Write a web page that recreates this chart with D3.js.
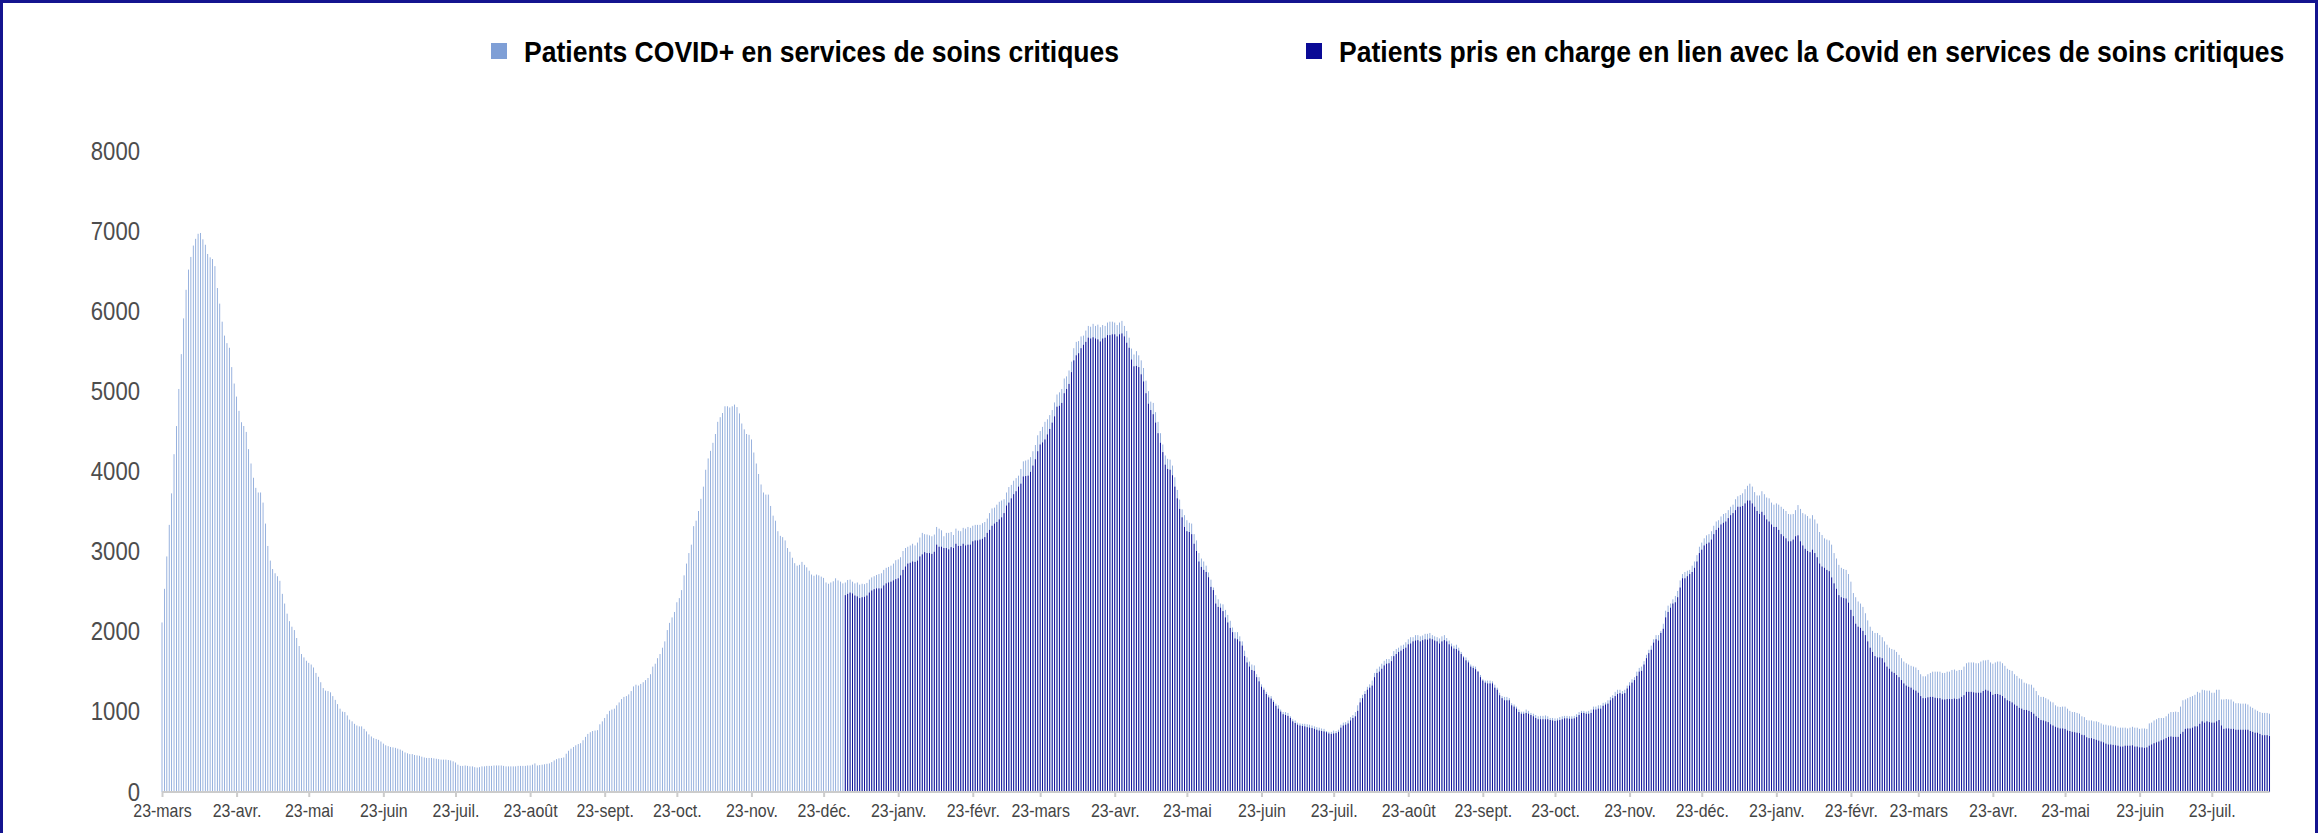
<!DOCTYPE html>
<html>
<head>
<meta charset="utf-8">
<style>
  body { margin: 0; background: #fff; }
  svg text { font-family: Arial, "Liberation Sans", sans-serif; }
</style>
</head>
<body>
<svg id="chart" width="2318" height="833"></svg>
<script src="https://d3js.org/d3.v7.min.js"></script>
<script>
// series names (legend)
var seriesNames = [
  "Patients COVID+ en services de soins critiques",
  "Patients pris en charge en lien avec la Covid en services de soins critiques"
];
var seriesColors = ["#7f9fd6", "#0a0a96"];

// daily values, first series starts 2020-03-23, second one 2021-01-01
var covidPlusStart = "2020-03-23";
var covidPlus = [
  2116,2536,2940,3334,3727,4216,4567,5030,5465,5911,
  6268,6520,6678,6820,6904,6967,6977,6898,6830,6715,
  6673,6652,6563,6290,6095,5870,5696,5602,5544,5303,
  5098,4935,4757,4615,4568,4494,4279,4100,3922,3796,
  3738,3738,3612,3350,3071,2888,2783,2730,2693,2636,
  2473,2352,2226,2132,2063,2021,1922,1822,1722,1680,
  1638,1612,1591,1554,1486,1438,1370,1297,1265,1260,
  1244,1197,1150,1097,1040,1003,998,956,903,882,
  851,830,819,819,788,756,719,693,672,662,
  651,630,604,583,572,562,557,551,541,530,
  515,494,483,473,473,462,457,452,441,431,
  425,425,425,420,415,410,404,404,404,399,
  394,383,368,341,326,326,331,326,320,320,
  310,305,310,320,320,326,326,326,331,331,
  331,331,326,320,320,320,320,320,326,326,
  326,326,331,331,341,357,331,336,341,346,
  352,357,373,394,410,420,425,431,478,515,
  541,562,583,599,609,646,688,725,746,761,
  767,772,845,882,924,971,1013,1029,1040,1082,
  1118,1160,1187,1197,1218,1260,1318,1339,1328,1349,
  1370,1397,1423,1470,1565,1601,1670,1722,1801,1880,
  2021,2111,2179,2247,2368,2420,2520,2704,2851,2982,
  3087,3318,3386,3507,3659,3811,4022,4163,4258,4358,
  4468,4620,4678,4730,4814,4814,4799,4814,4835,4804,
  4725,4599,4526,4468,4458,4400,4237,4100,3969,3838,
  3738,3712,3712,3570,3449,3386,3255,3197,3181,3140,
  3045,2998,2924,2856,2825,2835,2872,2835,2804,2762,
  2714,2699,2714,2704,2688,2672,2615,2599,2615,2630,
  2667,2641,2625,2604,2615,2646,2651,2625,2604,2615,
  2588,2599,2594,2609,2651,2678,2693,2709,2720,2730,
  2772,2798,2809,2825,2851,2893,2903,2930,3008,3045,
  3061,3077,3098,3077,3113,3176,3234,3218,3213,3203,
  3192,3213,3308,3287,3266,3192,3234,3234,3245,3208,
  3287,3261,3255,3297,3287,3308,3297,3323,3334,3334,
  3334,3355,3370,3413,3481,3539,3549,3586,3622,3638,
  3654,3738,3806,3833,3885,3917,3948,4032,4127,4137,
  4148,4179,4253,4331,4452,4505,4557,4620,4652,4704,
  4767,4862,4961,4988,5030,5161,5187,5261,5371,5539,
  5618,5628,5686,5696,5759,5817,5807,5843,5817,5833,
  5801,5828,5817,5859,5870,5870,5859,5828,5859,5880,
  5817,5754,5670,5534,5460,5502,5450,5387,5292,5134,
  5003,4872,4856,4741,4620,4478,4337,4200,4158,4148,
  4074,3927,3770,3649,3528,3455,3392,3360,3350,3218,
  3140,2982,2914,2877,2825,2740,2650,2552,2457,2405,
  2352,2342,2273,2210,2137,2053,1995,1995,1943,1880,
  1764,1680,1628,1591,1580,1470,1433,1344,1302,1250,
  1208,1197,1145,1103,1082,1029,998,998,987,945,
  908,893,866,856,851,851,845,840,830,819,
  809,803,793,788,761,751,751,767,761,777,
  840,866,872,893,935,961,998,1082,1171,1213,
  1260,1313,1344,1391,1486,1538,1565,1601,1638,1659,
  1659,1696,1759,1785,1801,1827,1838,1869,1906,1932,
  1932,1958,1958,1943,1953,1974,1974,1985,1958,1943,
  1932,1916,1943,1958,1922,1890,1853,1827,1838,1801,
  1748,1696,1680,1643,1591,1575,1565,1512,1460,1407,
  1391,1391,1391,1381,1339,1302,1239,1197,1187,1187,
  1171,1108,1092,1066,1029,1003,1003,1029,1013,987,
  977,961,945,950,950,956,945,924,924,919,
  919,935,945,950,950,945,945,950,971,998,
  1013,1013,1003,1013,1029,1066,1066,1082,1082,1113,
  1118,1145,1187,1208,1250,1276,1276,1260,1276,1328,
  1370,1407,1433,1502,1549,1565,1633,1712,1775,1827,
  1906,1958,1958,2011,2100,2263,2326,2352,2405,2447,
  2510,2641,2720,2746,2762,2772,2825,2877,2956,3061,
  3113,3166,3203,3218,3255,3323,3376,3392,3439,3470,
  3481,3518,3560,3586,3654,3691,3707,3728,3780,3822,
  3848,3812,3743,3701,3701,3754,3717,3675,3665,3612,
  3586,3602,3586,3560,3533,3507,3470,3465,3470,3518,
  3581,3533,3481,3465,3444,3413,3455,3402,3350,3245,
  3208,3166,3150,3140,3087,2982,2914,2835,2798,2783,
  2772,2720,2625,2483,2431,2378,2352,2310,2231,2142,
  2063,2011,1985,1985,1958,1932,1880,1838,1801,1785,
  1775,1748,1712,1670,1628,1607,1591,1575,1565,1554,
  1523,1470,1444,1444,1470,1486,1502,1502,1502,1502,
  1486,1486,1502,1502,1523,1528,1512,1523,1523,1565,
  1607,1617,1617,1617,1607,1607,1628,1643,1643,1649,
  1617,1601,1617,1628,1628,1607,1575,1538,1523,1512,
  1470,1449,1418,1407,1365,1355,1344,1339,1302,1260,
  1208,1187,1187,1171,1155,1129,1118,1082,1066,1061,
  1066,1066,1040,1013,998,998,987,977,945,935,
  898,893,893,882,882,872,856,840,840,830,
  830,819,819,803,803,803,803,793,803,814,
  803,803,788,793,793,788,856,866,893,908,
  924,924,924,945,977,998,998,1003,998,1066,
  1145,1155,1171,1187,1197,1213,1250,1239,1276,1270,
  1265,1265,1239,1239,1276,1276,1155,1155,1160,1155,
  1155,1129,1108,1108,1103,1103,1103,1092,1066,1050,
  1029,1013,998,987,987,987,977
];

var covidLinkedStart = "2021-01-01";
var covidLinked = [
  2457,2473,2489,2478,2452,2441,
  2420,2431,2436,2452,2489,2515,2531,2541,2541,2541,
  2578,2604,2615,2625,2641,2657,2667,2704,2772,2814,
  2851,2861,2877,2872,2888,2940,2966,2993,2982,2982,
  2972,2998,3087,3061,3061,3045,3045,3029,3056,3045,
  3098,3071,3071,3098,3077,3087,3087,3129,3140,3140,
  3150,3160,3181,3234,3271,3323,3350,3370,3402,3428,
  3481,3575,3612,3665,3717,3754,3811,3848,3938,3943,
  3948,3995,4074,4153,4253,4337,4363,4400,4463,4531,
  4610,4688,4809,4820,4856,4977,5030,5093,5240,5387,
  5450,5476,5539,5581,5618,5670,5660,5675,5660,5649,
  5623,5660,5670,5702,5702,5712,5712,5686,5712,5723,
  5686,5607,5544,5397,5313,5318,5303,5213,5124,4977,
  4846,4767,4715,4610,4478,4358,4242,4085,4032,4022,
  3953,3811,3665,3533,3428,3308,3255,3245,3218,3098,
  3008,2877,2809,2772,2746,2680,2560,2520,2352,2310,
  2300,2258,2179,2116,2048,1995,1916,1906,1880,1827,
  1696,1617,1565,1523,1512,1433,1381,1313,1276,1223,
  1181,1166,1124,1076,1040,1003,971,961,950,924,
  882,861,840,830,824,819,809,803,798,788,
  777,767,761,756,746,730,725,730,735,751,
  803,830,840,856,893,924,945,1013,1118,1171,
  1223,1276,1302,1328,1433,1486,1502,1538,1580,1601,
  1607,1633,1696,1722,1748,1764,1785,1801,1843,1853,
  1880,1890,1895,1880,1895,1906,1901,1916,1906,1890,
  1880,1853,1880,1895,1880,1843,1817,1790,1785,1764,
  1722,1680,1643,1617,1565,1549,1533,1502,1433,1391,
  1365,1355,1355,1355,1302,1276,1208,1171,1145,1145,
  1145,1082,1066,1040,998,977,977,987,977,961,
  945,924,908,908,908,908,908,898,893,887,
  893,898,908,919,919,914,914,919,935,961,
  987,987,977,977,987,1029,1029,1040,1040,1076,
  1092,1103,1145,1171,1197,1223,1234,1223,1234,1292,
  1328,1365,1397,1449,1502,1512,1591,1670,1733,1775,
  1864,1906,1890,1985,2037,2179,2247,2300,2352,2368,
  2431,2552,2667,2667,2693,2720,2746,2798,2877,2982,
  3024,3077,3098,3113,3150,3218,3271,3297,3339,3360,
  3376,3418,3455,3481,3518,3560,3560,3570,3602,3638,
  3638,3602,3560,3507,3470,3497,3455,3402,3376,3339,
  3308,3308,3271,3218,3192,3166,3129,3129,3150,3192,
  3203,3129,3077,3035,3008,2993,3024,2982,2930,2851,
  2814,2798,2772,2756,2678,2604,2536,2457,2431,2420,
  2415,2363,2273,2195,2100,2063,2048,2011,1958,1880,
  1801,1748,1696,1680,1680,1670,1617,1565,1538,1502,
  1486,1460,1433,1397,1355,1328,1313,1302,1276,1265,
  1239,1197,1171,1171,1181,1187,1187,1176,1171,1171,
  1155,1155,1160,1160,1160,1166,1160,1166,1187,1208,
  1250,1250,1250,1244,1239,1239,1239,1260,1276,1265,
  1250,1213,1223,1223,1213,1197,1171,1145,1134,1118,
  1092,1076,1050,1040,1024,1024,1013,998,977,945,
  924,898,893,882,872,845,830,814,803,793,
  793,788,767,761,751,746,740,735,714,709,
  683,672,672,662,651,641,630,620,604,593,
  593,588,583,578,567,567,578,578,578,583,
  567,567,557,557,551,557,578,593,609,620,
  630,646,656,672,688,693,688,688,688,725,
  751,788,793,793,803,819,819,851,882,866,
  882,872,866,866,882,898,830,788,793,793,
  788,788,777,777,777,777,777,777,761,751,
  740,740,725,709,709,709,698
];

// axis labels
var yTicks = [0, 1000, 2000, 3000, 4000, 5000, 6000, 7000, 8000];
var monthLabels = ["janv.", "févr.", "mars", "avr.", "mai", "juin",
                   "juil.", "août", "sept.", "oct.", "nov.", "déc."];
var firstTick = "2020-03-23", lastTick = "2022-07-23";

var svg = d3.select("#chart");
var parse = d3.utcParse("%Y-%m-%d");
var squeeze = 0.885; // text in the picture is a little narrower than normal

var x = d3.scaleUtc()
  .domain([parse(firstTick), parse(lastTick)])
  .range([162, 2211.8]);
var y = d3.scaleLinear().domain([0, 8000]).range([792, 151]);

function toRows(start, values) {
  var d0 = parse(start);
  return values.map(function(v, i) { return {date: d3.utcDay.offset(d0, i), value: v}; });
}
var rows1 = toRows(covidPlusStart, covidPlus);
var rows2 = toRows(covidLinkedStart, covidLinked);
var lastDate = rows1[rows1.length - 1].date;

// frame
svg.append("rect")
  .attr("x", 1.5).attr("y", 1.5)
  .attr("width", 2315).attr("height", 860)
  .attr("fill", "none")
  .attr("stroke", "#14148f")
  .attr("stroke-width", 3);

// bars (light series behind, dark one in front)
var barWidths = [0.8, 0.95];
[rows1, rows2].forEach(function(rows, i) {
  var w = barWidths[i];
  svg.append("g").selectAll("rect")
    .data(rows)
    .join("rect")
      .attr("x", function(d) { return x(d.date) - w / 2; })
      .attr("y", function(d) { return y(d.value); })
      .attr("width", w)
      .attr("height", function(d) { return y(0) - y(d.value); })
      .attr("fill", seriesColors[i]);
});

// x axis
var tickDates = d3.utcMonth.range(d3.utcMonth.floor(parse(firstTick)), d3.utcDay.offset(parse(lastTick), 1), 1)
  .map(function(m) { return d3.utcDay.offset(m, 22); });

var gx = svg.append("g")
  .attr("transform", "translate(0," + y(0) + ")")
  .call(d3.axisBottom(x)
    .tickValues(tickDates)
    .tickSize(5)
    .tickPadding(7)
    .tickFormat(function(d) { return d.getUTCDate() + "-" + monthLabels[d.getUTCMonth()]; }));
gx.select(".domain").remove();
gx.selectAll(".tick line").attr("stroke", "#cccccc").attr("stroke-width", 2);
gx.selectAll(".tick text")
  .attr("fill", "#444444")
  .attr("transform", "scale(" + squeeze + ",1)")
  .style("font-size", "18px");
gx.append("line")
  .attr("x1", x(parse(firstTick))).attr("x2", x(lastDate))
  .attr("y1", 0).attr("y2", 0)
  .attr("stroke", "#cccccc").attr("stroke-width", 2);

// y axis
var gy = svg.append("g")
  .attr("transform", "translate(140,0)")
  .call(d3.axisLeft(y).tickValues(yTicks).tickSize(0).tickPadding(0).tickFormat(d3.format("d")));
gy.select(".domain").remove();
gy.selectAll(".tick text")
  .attr("fill", "#4d4d4d")
  .attr("transform", "scale(" + squeeze + ",1)")
  .style("font-size", "25px");

// legend
var legendX = [491, 1306];
var legend = svg.append("g");
seriesNames.forEach(function(name, i) {
  legend.append("rect")
    .attr("x", legendX[i]).attr("y", 43)
    .attr("width", 16).attr("height", 16)
    .attr("fill", seriesColors[i]);
  legend.append("text")
    .attr("transform", "translate(" + (legendX[i] + 33) + ",62) scale(" + squeeze + ",1)")
    .attr("fill", "#000")
    .style("font-size", "30px")
    .style("font-weight", "bold")
    .text(name);
});
</script>
</body>
</html>
